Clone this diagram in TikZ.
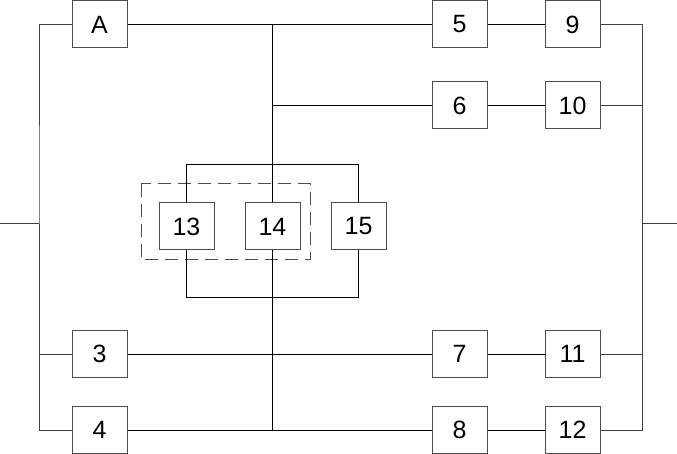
\documentclass[tikz,border=0pt]{standalone}
\usepackage{fontspec}
\setmainfont{Liberation Sans}
\usetikzlibrary{positioning}

\begin{document}
\begin{tikzpicture}[
    x = 1pt,
    y = -1pt,
    node distance = 33pt and 57pt,
    block/.style = {
        rectangle,
        minimum width = 55pt,
        minimum height = 47pt,
        inner sep = 0pt,
        text centered,
        draw = black!70,
        line width = 1pt,
        fill = white,
        font = \fontsize{25}{30}\selectfont
    },
    wire/.style = {
        line width = 1pt,
        draw = black
    },
    bus/.style = {
        line width = 1pt,
        draw = black!75
    },
    group/.style = {
        dashed,
        dash pattern = on 13pt off 7pt,
        line width = 1pt,
        draw = black!70
    }
]

    \useasboundingbox (0,0) rectangle (677,454);

    % Input and output terminals
    \coordinate (in) at (0,224);
    \coordinate (out) at (677,224);
    \coordinate (lbus) at (39,224);
    \coordinate (rbus) at (642,224);

    % Left column
    \node [block] (a) at (99.5,24.5) {A};
    \node [block] (n3) at (99.5,354) {3};
    \node [block] (n4) at (99.5,430) {4};

    % Right columns (top rows)
    \node [block] (n5) at (459.5,24.5) {5};
    \node [block, right = of n5] (n9) {9};
    \node [block, below = of n5] (n6) {6};
    \node [block, right = of n6] (n10) {10};

    % Right columns (bottom rows)
    \node [block] (n7) at (459.5,354) {7};
    \node [block, right = of n7] (n11) {11};
    \node [block] (n8) at (459.5,430) {8};
    \node [block, right = of n8] (n12) {12};

    % Middle group
    \node [block] (n13) at (186.5,226.5) {13};
    \node [block] (n14) at (272.5,226.5) {14};
    \node [block] (n15) at (358.5,226.5) {15};
    \draw [group] (141,184) rectangle (310,260);

    % Left bus
    \draw [bus] (in) -- (lbus);
    \draw [bus] (a.west) -| (lbus) |- (n4.west);
    \draw [bus] (n3.west) -| (lbus);

    % Right bus
    \draw [bus] (rbus) -- (out);
    \draw [bus] (n9.east) -| (rbus) |- (n12.east);
    \draw [bus] (n10.east) -| (rbus);
    \draw [bus] (n11.east) -| (rbus);

    % Horizontal rows
    \draw [wire] (a) -- (n5);
    \draw [wire] (n5) -- (n9);
    \draw [wire] (n6) -- (n10);
    \draw [wire] (n3) -- (n7);
    \draw [wire] (n7) -- (n11);
    \draw [wire] (n4) -- (n8);
    \draw [wire] (n8) -- (n12);

    % Middle vertical
    \draw [wire] (n14.north |- a.east) -- (n14.north);
    \draw [wire] (n14.north |- n6.west) -- (n6.west);
    \draw [wire] (n14.south) -- (n14.south |- n4.east);

    % Parallel loop
    \draw [wire] (n13.north) -- ++(0,-38) -| (n15.north);
    \draw [wire] (n13.south) -- ++(0,47) -| (n15.south);

\end{tikzpicture}
\end{document}
